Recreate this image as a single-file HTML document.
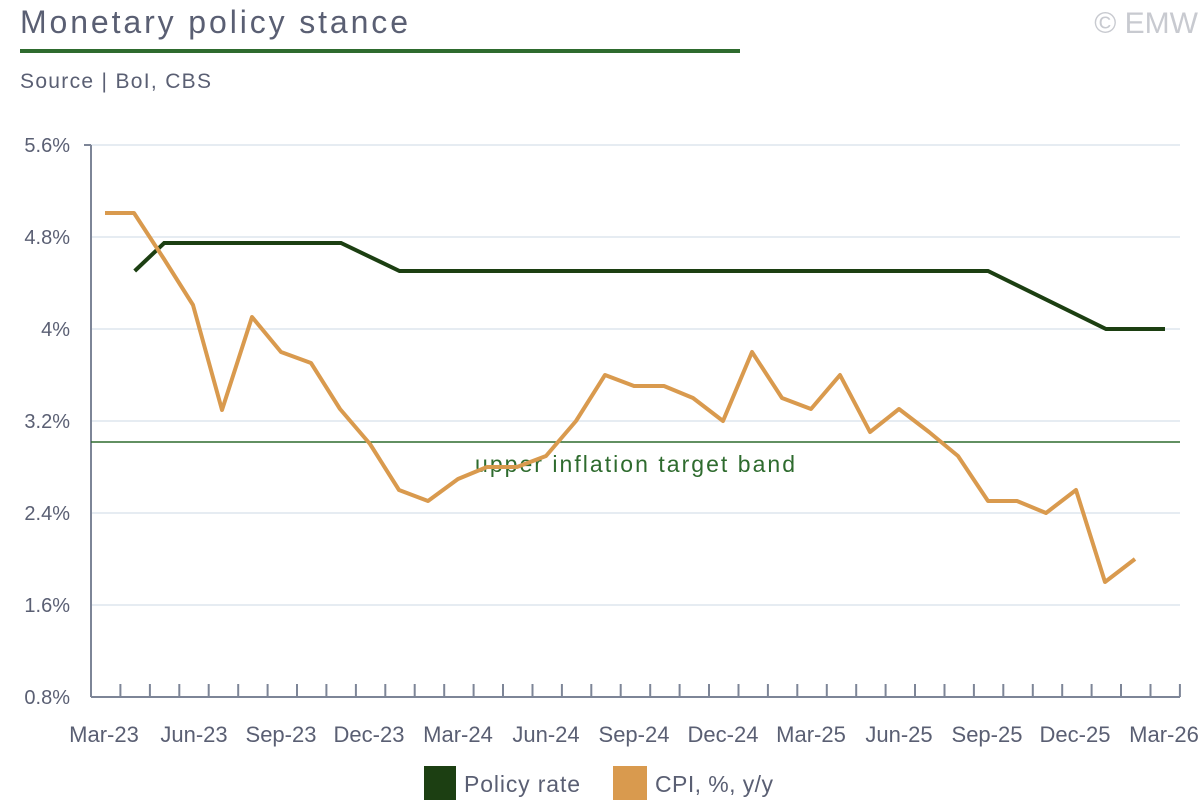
<!DOCTYPE html>
<html><head><meta charset="utf-8"><style>
body{margin:0;background:#fff;width:1200px;height:800px;overflow:hidden;font-family:"Liberation Sans",sans-serif}
</style></head><body>
<svg width="1200" height="800" xmlns="http://www.w3.org/2000/svg" font-family="Liberation Sans, sans-serif">
<text x="20" y="33" font-size="32" fill="#5a5f73" textLength="388" lengthAdjust="spacing">Monetary policy stance</text>
<text x="1198" y="33" font-size="30" fill="#c8cad0" text-anchor="end">© EMW</text>
<rect x="20" y="49" width="720" height="4" fill="#2e6b2e"/>
<text x="20" y="88" font-size="21" fill="#5a5f73" textLength="191" lengthAdjust="spacing">Source | BoI, CBS</text>
<g stroke="#dde5ee" stroke-width="1.5">
<line x1="91" x2="1180" y1="145" y2="145"/><line x1="91" x2="1180" y1="237" y2="237"/><line x1="91" x2="1180" y1="329" y2="329"/><line x1="91" x2="1180" y1="421" y2="421"/><line x1="91" x2="1180" y1="513" y2="513"/><line x1="91" x2="1180" y1="605" y2="605"/>
</g>
<g font-size="20" fill="#5a5f73" text-anchor="end">
<text x="70" y="152">5.6%</text><text x="70" y="244">4.8%</text><text x="70" y="336">4%</text><text x="70" y="428">3.2%</text><text x="70" y="520">2.4%</text><text x="70" y="612">1.6%</text><text x="70" y="704">0.8%</text>
</g>
<g stroke="#7d8597" stroke-width="2" fill="none">
<line x1="91" y1="145" x2="91" y2="697"/>
<line x1="91" y1="697" x2="1180" y2="697"/>
<line x1="91" y1="145" x2="84" y2="145"/>
</g>
<g stroke="#7d8597" stroke-width="2" id="tk"></g>
<line x1="91" x2="1180" y1="442" y2="442" stroke="#2e6b2e" stroke-width="1.5"/>
<text x="475" y="472" font-size="23" fill="#2e6b2e" textLength="320" lengthAdjust="spacing">upper inflation target band</text>
<polyline fill="none" stroke="#1c3f12" stroke-width="4" points="134.7,271 164.2,243 341,243 399.5,271 988,271 1106,329 1165,329"/>
<polyline fill="none" stroke="#d99a4e" stroke-width="4" stroke-linejoin="round" points="105,213 134,213 164,259 193,305 222,410 252,317 281,352 311,363 340,409 370,444 399,490 428,501 458,479 487,467 517,467 546,456 576,421 605,375 634,386 664,386 693,398 723,421 752,352 782,398 811,409 840,375 870,432 899,409 929,432 958,456 988,501 1017,501 1046,513 1076,490 1105,582 1135,559"/>
<g font-size="22" fill="#5a5f73" text-anchor="middle">
<text x="104" y="742">Mar-23</text><text x="194" y="742">Jun-23</text><text x="281" y="742">Sep-23</text><text x="369" y="742">Dec-23</text><text x="458" y="742">Mar-24</text><text x="546" y="742">Jun-24</text><text x="634" y="742">Sep-24</text><text x="723" y="742">Dec-24</text><text x="811" y="742">Mar-25</text><text x="899" y="742">Jun-25</text><text x="987" y="742">Sep-25</text><text x="1075" y="742">Dec-25</text><text x="1164" y="742">Mar-26</text>
</g>
<rect x="424" y="766" width="32" height="34" fill="#1c3f12"/>
<text x="464" y="792" font-size="23" fill="#5a5f73" textLength="116" lengthAdjust="spacing">Policy rate</text>
<rect x="613" y="766" width="34" height="34" fill="#d99a4e"/>
<text x="655" y="792" font-size="23" fill="#5a5f73" textLength="118" lengthAdjust="spacing">CPI, %, y/y</text>
</svg>
<script>
var g=document.getElementById('tk'),s='';
for(var k=1;k<=37;k++){var x=(91+29.43*k).toFixed(1);s+='<line x1="'+x+'" x2="'+x+'" y1="684" y2="697"/>';}
g.innerHTML=s;
</script>
</body></html>
